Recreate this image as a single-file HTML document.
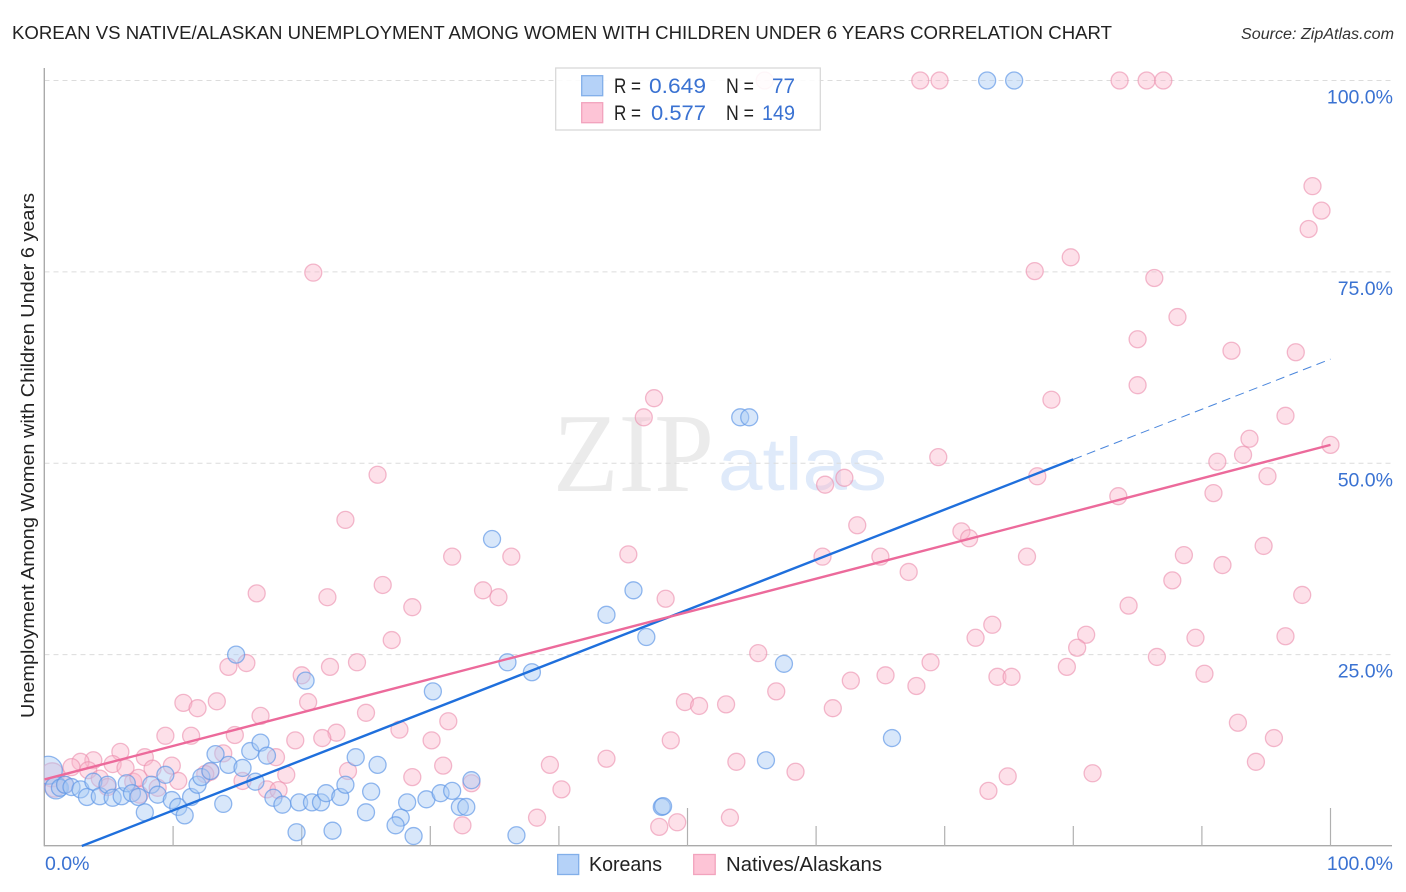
<!DOCTYPE html>
<html lang="en">
<head>
<meta charset="utf-8">
<title>Korean vs Native/Alaskan Unemployment Correlation Chart</title>
<style>
html,body{margin:0;padding:0;background:#fff;width:1406px;height:892px;overflow:hidden}
svg{display:block;font-family:"Liberation Sans",sans-serif}
</style>
</head>
<body>
<svg id="chart" xmlns="http://www.w3.org/2000/svg" width="1406" height="892" viewBox="0 0 1406 892">
  <defs>
    <clipPath id="plot-clip"><rect x="44" y="60" width="1350" height="786"/></clipPath>
  </defs>
  <rect x="0" y="0" width="1406" height="892" fill="#fff"/>
  <text x="12" y="39" font-size="18.5" fill="#222" textLength="1100" lengthAdjust="spacingAndGlyphs">KOREAN VS NATIVE/ALASKAN UNEMPLOYMENT AMONG WOMEN WITH CHILDREN UNDER 6 YEARS CORRELATION CHART</text>
  <text x="1241" y="39" font-size="15.5" font-style="italic" fill="#333" textLength="153" lengthAdjust="spacingAndGlyphs">Source: ZipAtlas.com</text>
  <text transform="translate(34,718) rotate(-90)" font-size="18.5" fill="#222" textLength="525" lengthAdjust="spacingAndGlyphs">Unemployment Among Women with Children Under 6 years</text>
  <g id="watermark">
    <text x="553" y="491" font-family="'Liberation Serif',serif" font-size="112" fill="#ebebeb" textLength="161" lengthAdjust="spacingAndGlyphs">ZIP</text>
    <text x="718" y="490" font-size="74" fill="#dfeafa" textLength="169" lengthAdjust="spacingAndGlyphs">atlas</text>
  </g>
  <g id="grid"></g>
  <g id="axes"></g>
  <g id="points-natives" clip-path="url(#plot-clip)"></g>
  <g id="points-koreans" clip-path="url(#plot-clip)"></g>
  <g id="trends"></g>
  <g id="tick-labels"></g>

  <g>
    <rect x="555.7" y="68" width="264.6" height="62" fill="#fff" fill-opacity="0.88" stroke="#d9d9d9" stroke-width="1.3"/>
    <rect x="581.7" y="75.7" width="21" height="20" fill="#b5d2f8" stroke="#82afe9" stroke-width="1.3"/>
    <rect x="581.7" y="102.7" width="21" height="20" fill="#fdc4d6" stroke="#f2a3bd" stroke-width="1.3"/>
    <text x="614" y="93" font-size="21" fill="#222" textLength="27" lengthAdjust="spacingAndGlyphs">R =</text>
    <text x="649" y="93" font-size="21" fill="#3a72d2" textLength="57" lengthAdjust="spacingAndGlyphs">0.649</text>
    <text x="726" y="93" font-size="21" fill="#222" textLength="28" lengthAdjust="spacingAndGlyphs">N =</text>
    <text x="772" y="93" font-size="21" fill="#3a72d2" textLength="23" lengthAdjust="spacingAndGlyphs">77</text>
    <text x="614" y="120" font-size="21" fill="#222" textLength="27" lengthAdjust="spacingAndGlyphs">R =</text>
    <text x="651" y="120" font-size="21" fill="#3a72d2" textLength="55" lengthAdjust="spacingAndGlyphs">0.577</text>
    <text x="726" y="120" font-size="21" fill="#222" textLength="28" lengthAdjust="spacingAndGlyphs">N =</text>
    <text x="762" y="120" font-size="21" fill="#3a72d2" textLength="33" lengthAdjust="spacingAndGlyphs">149</text>
  </g>

  <g>
    <rect x="557.7" y="854.5" width="21" height="20" fill="#b5d2f8" stroke="#82afe9" stroke-width="1.3"/>
    <text x="589" y="871" font-size="20" fill="#222" textLength="73" lengthAdjust="spacingAndGlyphs">Koreans</text>
    <rect x="693.7" y="854.5" width="21.5" height="20" fill="#fdc4d6" stroke="#f2a3bd" stroke-width="1.3"/>
    <text x="726" y="871" font-size="20" fill="#222" textLength="156" lengthAdjust="spacingAndGlyphs">Natives/Alaskans</text>
  </g>
</svg>

<script>
// Korean sample: x = Korean unemployment %, y = Native/Alaskan-side rate %
const koreanX = [0.3,0.9,73.3,75.4,54.1,54.8,34.8,45.8,43.7,46.8,14.9,36.0,37.9,57.5,20.3,30.2,65.9,56.1,24.2,25.9,25.4,25.0,28.2,29.7,30.8,31.7,32.3,32.8,27.7,27.3,28.7,36.7,33.2,48.0,48.1,1.2,1.6,2.1,2.8,3.3,3.8,4.3,4.9,5.3,6.0,6.4,6.8,7.3,8.3,7.8,8.8,9.4,9.9,10.4,10.9,11.4,11.9,12.2,12.9,13.9,13.3,14.3,15.4,16.0,16.8,17.3,16.4,17.8,18.5,19.8,20.8,21.5,21.9,23.0,23.4,19.6,22.4];
const koreanY = [9.9,7.6,100,100,56.0,56.0,40.1,33.4,30.2,27.3,25.0,24.0,22.7,23.8,21.6,20.2,14.1,11.2,11.6,10.6,7.1,4.4,5.7,6.1,6.9,7.2,5.1,5.1,3.7,2.7,1.3,1.4,8.6,5.1,5.2,7.6,8.0,7.7,7.4,6.4,8.4,6.5,8.0,6.3,6.5,8.2,6.9,6.4,8.0,4.4,6.7,9.3,6.0,5.1,4.0,6.4,8.0,9.0,9.8,5.5,12.0,10.6,10.2,12.4,13.5,11.8,8.4,6.3,5.4,5.7,5.7,5.7,6.9,6.4,8.0,1.8,2.0];
// Relative sample weight of the leading points; all others weigh 1
const koreanWeight = [2.7,1.7];

const nativeX = [0.6,0.8,56.0,68.1,69.6,83.6,85.7,87.0,20.9,98.6,99.3,98.3,77.0,79.8,86.3,88.1,85.0,92.3,97.3,85.0,78.3,47.4,46.6,96.5,93.7,100.0,93.2,69.5,91.2,25.9,77.2,95.1,62.2,60.7,90.9,83.5,23.4,63.2,71.3,71.9,94.8,45.4,88.6,31.7,36.3,60.5,65.0,76.4,91.6,67.2,87.7,26.3,34.1,16.5,97.8,22.0,35.3,48.3,84.3,28.6,73.7,81.0,96.5,72.4,89.5,27.0,80.3,55.5,86.5,15.7,24.3,68.9,14.3,22.2,79.5,90.2,20.0,65.4,74.1,75.2,62.7,67.8,56.9,20.5,49.8,10.8,13.4,53.0,11.9,50.9,61.3,25.0,16.8,31.4,92.8,27.6,22.7,14.8,9.4,11.4,21.6,95.6,19.5,30.1,48.7,7.8,13.9,5.9,18.0,43.7,3.8,2.8,94.2,53.8,5.3,39.3,31.0,9.9,2.1,6.3,8.4,3.4,23.6,12.9,58.4,81.5,18.8,74.9,28.6,4.3,10.4,15.4,6.9,33.2,1.6,4.9,8.8,17.3,18.2,40.2,73.4,7.4,38.3,53.3,49.2,32.5,47.8,12.5,7.3];
const nativeY = [9.3,7.7,100,100,100,100,100,100,74.9,86.2,83.0,80.6,75.1,76.9,74.2,69.1,66.2,64.7,64.5,60.2,58.3,58.5,56.0,56.2,53.2,52.4,51.1,50.8,50.2,48.5,48.3,48.3,48.1,47.2,46.1,45.7,42.6,41.9,41.1,40.2,39.2,38.1,38.0,37.8,37.8,37.8,37.8,37.8,36.7,35.8,34.7,34.1,33.4,33.0,32.8,32.5,32.5,32.3,31.4,31.2,28.9,27.6,27.4,27.2,27.2,26.9,25.9,25.2,24.7,23.9,24.0,24.0,23.4,23.4,23.4,22.5,22.3,22.3,22.1,22.1,21.6,20.9,20.2,18.8,18.8,18.7,18.9,18.5,18.0,18.3,18.0,17.4,17.0,16.3,16.1,15.2,14.8,14.5,14.4,14.4,14.1,14.1,13.8,13.8,13.8,11.6,12.1,12.3,11.6,11.4,11.2,11.0,11.0,11.0,10.7,10.6,10.5,10.5,10.3,10.2,10.1,9.9,9.8,9.7,9.7,9.5,9.3,9.1,9.0,8.8,8.5,8.5,8.4,8.2,8.0,7.7,7.6,7.4,7.3,7.4,7.2,6.7,3.7,3.7,3.1,2.7,2.5,9.4,8.9];
const nativeWeight = [2.0,1.4];

// Fitted trend lines: value = intercept + slope * x
const koreanTrendIntercept = -1.9;
const koreanTrendSlope = 0.655;
const koreanTrendSolidEnd = 80;
const koreanTrendDashEnd = 100;
const nativeTrendIntercept = 8.7;
const nativeTrendSlope = 0.437;
const nativeTrendEnd = 100;

// Axis ticks
const xTickValues = [10,20,30,40,50,60,70,80,90,100];
const xMajorTicks = [50,100];
const yTickValues = [25,50,75,100];
const xEdgeLabels = ["0.0%","100.0%"];
const yTickLabels = ["25.0%","50.0%","75.0%","100.0%"];

const SVGNS = "http://www.w3.org/2000/svg";
function xScale(v){ return 44.5 + v * 12.86; }
function yScale(v){ return 846 - v * 7.655; }
function radiusFor(weight){ return 8.5 * Math.sqrt(weight); }
function make(tag, attrs, parent){
  const el = document.createElementNS(SVGNS, tag);
  for (const k in attrs) el.setAttribute(k, attrs[k]);
  parent.appendChild(el);
  return el;
}

// Gridlines
const gridGroup = document.getElementById("grid");
yTickValues.forEach(function(v){
  const line = make("line", {x1:44.5, x2:1393, y1:yScale(v), y2:yScale(v), stroke:"#dcdcdc", "stroke-width":1, "stroke-dasharray":"5 4"}, gridGroup);
  
  
});

// Axes and ticks
const axesGroup = document.getElementById("axes");
const yAxisLine = make("line", {x1:44.3, x2:44.3, y1:68, y2:846.3, stroke:"#aaaaaa", "stroke-width":1.4}, axesGroup);


const xAxisLine = make("line", {x1:44, x2:1392, y1:845.7, y2:845.7, stroke:"#aaaaaa", "stroke-width":1.4}, axesGroup);


xTickValues.forEach(function(v){
  const top = xMajorTicks.indexOf(v) >= 0 ? 808 : 826;
  const tick = make("line", {x1:xScale(v), x2:xScale(v), y1:top, y2:846, stroke:"#b0b0b0", "stroke-width":1.2}, axesGroup);
  
  
});

// Points
const nativeGroup = document.getElementById("points-natives");
nativeX.forEach(function(v, i){
  const w = i < nativeWeight.length ? nativeWeight[i] : 1;
  const c = make("circle", {cx:xScale(v), cy:yScale(nativeY[i]), r:radiusFor(w), fill:"#fab5ca", "fill-opacity":0.42, stroke:"#ec8fae", "stroke-opacity":0.62, "stroke-width":1.3}, nativeGroup);
  
  
});
const koreanGroup = document.getElementById("points-koreans");
koreanX.forEach(function(v, i){
  const w = i < koreanWeight.length ? koreanWeight[i] : 1;
  const c = make("circle", {cx:xScale(v), cy:yScale(koreanY[i]), r:radiusFor(w), fill:"#a9c9f5", "fill-opacity":0.45, stroke:"#5e96e6", "stroke-opacity":0.68, "stroke-width":1.3}, koreanGroup);
  
  
});

// Trend lines
const trendGroup = document.getElementById("trends");
function koreanFit(x){ return koreanTrendIntercept + koreanTrendSlope * x; }
function nativeFit(x){ return nativeTrendIntercept + nativeTrendSlope * x; }
const koreanStart = -koreanTrendIntercept / koreanTrendSlope;
const koreanSolid = make("line", {x1:xScale(koreanStart), y1:yScale(0), x2:xScale(koreanTrendSolidEnd), y2:yScale(koreanFit(koreanTrendSolidEnd)), stroke:"#1f6fdc", "stroke-width":2.4}, trendGroup);


const koreanDash = make("line", {x1:xScale(koreanTrendSolidEnd), y1:yScale(koreanFit(koreanTrendSolidEnd)), x2:xScale(koreanTrendDashEnd), y2:yScale(koreanFit(koreanTrendDashEnd)), stroke:"#4a86dc", "stroke-width":1, "stroke-dasharray":"9 5.5"}, trendGroup);


const nativeLine = make("line", {x1:xScale(0), y1:yScale(nativeFit(0)), x2:xScale(nativeTrendEnd), y2:yScale(nativeFit(nativeTrendEnd)), stroke:"#ec6a9b", "stroke-width":2.4}, trendGroup);



// Tick labels
const labelGroup = document.getElementById("tick-labels");
yTickValues.forEach(function(v, i){
  const t = make("text", {x:1393, y:yScale(v) + 23, "text-anchor":"end", "font-size":19.5, fill:"#3a72d2"}, labelGroup);
  
  
  t.textContent = yTickLabels[i];
});
const x0Label = make("text", {x:45, y:870, "font-size":19.5, fill:"#3a72d2"}, labelGroup);


x0Label.textContent = xEdgeLabels[0];
const x100Label = make("text", {x:1393, y:870, "text-anchor":"end", "font-size":19.5, fill:"#3a72d2"}, labelGroup);


x100Label.textContent = xEdgeLabels[1];
</script>
</body>
</html>
